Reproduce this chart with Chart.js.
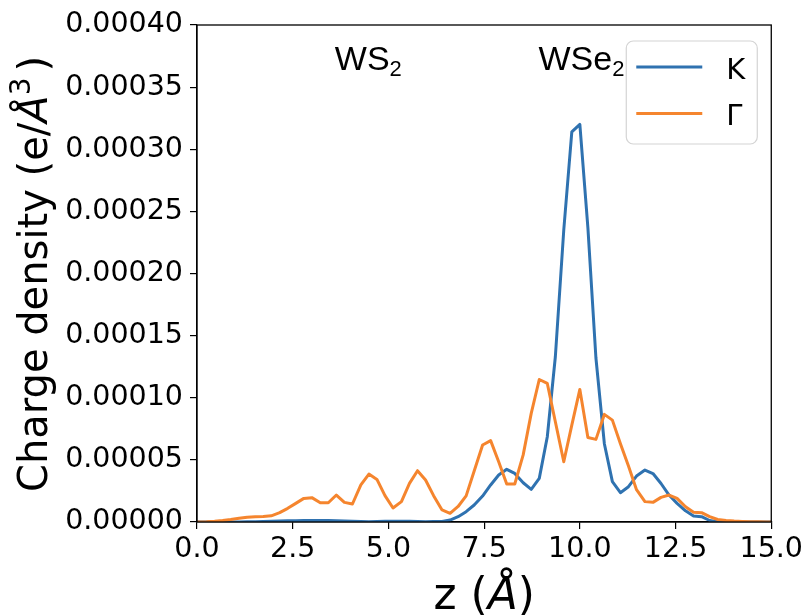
<!DOCTYPE html>
<html><head><meta charset="utf-8">
<script src="https://cdn.jsdelivr.net/npm/chart.js@4/dist/chart.umd.min.js"></script>
<style>html,body{margin:0;padding:0;background:#fff;}#wrap{width:806px;height:616px;}</style>
</head><body><div id="wrap"><canvas id="c" width="806" height="616"></canvas></div>
<script>
// z positions (Å) of the sampled profile
const zPositions = [-0.18,0.04,0.25,0.46,0.67,0.88,1.10,1.31,1.52,1.73,1.94,2.16,2.37,2.58,2.79,3.00,3.22,3.43,3.64,3.85,4.06,4.28,4.49,4.70,4.91,5.12,5.34,5.55,5.76,5.97,6.18,6.40,6.61,6.82,7.03,7.24,7.46,7.67,7.88,8.09,8.30,8.52,8.73,8.94,9.15,9.36,9.58,9.79,10.00,10.21,10.42,10.64,10.85,11.06,11.27,11.48,11.70,11.91,12.12,12.33,12.54,12.76,12.97,13.18,13.39,13.60,13.82,14.03,14.24,14.45,14.66,14.88,15.09];
// charge density in units of 1e-5 e/Å^3
const kDensity = [0,0,0,0,0,0.01,0.01,0.02,0.03,0.04,0.06,0.08,0.10,0.11,0.12,0.12,0.12,0.12,0.11,0.09,0.06,0.04,0.03,0.04,0.06,0.07,0.07,0.06,0.04,0.03,0.04,0.05,0.16,0.43,0.83,1.37,2.09,2.98,3.78,4.24,3.91,3.16,2.63,3.51,6.86,13.3,23.5,31.4,32.0,23.7,13.2,6.3,3.25,2.36,2.84,3.7,4.18,3.9,3.1,2.17,1.5,0.9,0.48,0.43,0.12,0.02,0,0,0,0,0,0,0];
const gammaDensity = [0,0.01,0.02,0.06,0.12,0.2,0.3,0.38,0.42,0.45,0.5,0.75,1.1,1.5,1.9,1.96,1.55,1.55,2.17,1.58,1.45,2.98,3.86,3.43,2.12,1.13,1.64,3.11,4.13,3.38,2.12,0.97,0.7,1.25,2.1,4.1,6.2,6.55,4.85,3.06,3.06,5.4,8.74,11.47,11.15,8.07,4.85,7.8,10.67,6.8,6.65,8.66,8.2,6.3,4.5,2.6,1.64,1.58,1.98,2.17,1.9,1.23,0.78,0.75,0.43,0.2,0.13,0.08,0.05,0.03,0.02,0.01,0.01];
const DENSITY_UNIT = 1e-5;
const seriesLabels = ['K', 'Γ'];
const xTickValues = [0, 2.5, 5, 7.5, 10, 12.5, 15];
const yTickValues = [0, 0.00005, 0.0001, 0.00015, 0.0002, 0.00025, 0.0003, 0.00035, 0.0004];
const layerNames = ['WS', 'WSe'];

const BLUE = '#2f72b0';
const ORANGE = '#f5852e';
const TICK_FONT = {family: 'DejaVu Sans', size: 28.5};

function drawRich(ctx, segs, x, y, align) {
  let total = 0;
  segs.forEach(s => { ctx.font = s.font; s.w = ctx.measureText(s.t).width + (s.gap || 0); total += s.w; });
  let cx = align === 'center' ? x - total / 2 : x;
  ctx.textAlign = 'left';
  ctx.textBaseline = 'alphabetic';
  segs.forEach(s => { ctx.font = s.font; ctx.fillText(s.t, cx, y + (s.dy || 0)); cx += s.w; });
}

const decorPlugin = {
  id: 'decor',
  afterDatasetsDraw(chart) {
    const ctx = chart.ctx, a = chart.chartArea;
    ctx.save();
    ctx.strokeStyle = '#000';
    ctx.lineWidth = 1.3;
    ctx.strokeRect(a.left, a.top, a.right - a.left, a.bottom - a.top);
    ctx.restore();
  },
  afterDraw(chart, args, opts) {
    const ctx = chart.ctx, a = chart.chartArea, sx = chart.scales.x, sy = chart.scales.y;
    ctx.save();
    ctx.fillStyle = '#000';
    // layer labels
    opts.layers.forEach((L, i) => {
      const px = sx.getPixelForValue(L.z), py = sy.getPixelForValue(L.v);
      drawRich(ctx, [
        {t: layerNames[i], font: '34px "Liberation Sans"'},
        {t: '2', font: '22px "Liberation Sans"', dy: 6}
      ], px, py, 'left');
    });
    // legend
    const bw = 131, bh = 103;
    const bx = a.right - 14 - bw, by = a.top + 16;
    ctx.beginPath();
    ctx.roundRect(bx, by, bw, bh, 7);
    ctx.fillStyle = 'rgba(255,255,255,0.85)';
    ctx.fill();
    ctx.strokeStyle = '#d4d4d4';
    ctx.lineWidth = 1.2;
    ctx.stroke();
    chart.data.datasets.forEach((ds, i) => {
      const ly = by + 26 + i * 46.5;
      ctx.beginPath();
      ctx.moveTo(bx + 10, ly);
      ctx.lineTo(bx + 76, ly);
      ctx.strokeStyle = ds.borderColor;
      ctx.lineWidth = 3;
      ctx.stroke();
      ctx.fillStyle = '#000';
      ctx.font = '29px "DejaVu Sans"';
      ctx.textAlign = 'left';
      ctx.textBaseline = 'alphabetic';
      ctx.fillText(ds.label, bx + 100, ly + 11.5);
    });
    // y title
    ctx.save();
    ctx.translate(47, (a.top + a.bottom) / 2 + 0.5);
    ctx.rotate(-Math.PI / 2);
    drawRich(ctx, [
      {t: 'Charge density (e/', font: '40px "DejaVu Sans"'},
      {t: 'Å', font: 'italic 40px "DejaVu Sans"'},
      {t: '3', font: '28px "DejaVu Sans"', dy: -17, gap: 6},
      {t: ')', font: '40px "DejaVu Sans"'}
    ], 0, 0, 'center');
    ctx.restore();
    // x title
    drawRich(ctx, [
      {t: 'z (', font: '44px "DejaVu Sans"'},
      {t: 'Å', font: 'italic 44px "DejaVu Sans"'},
      {t: ')', font: '44px "DejaVu Sans"'}
    ], (a.left + a.right) / 2, 609, 'center');
    ctx.restore();
  }
};

const ctx = document.getElementById('c').getContext('2d');
new Chart(ctx, {
  type: 'line',
  data: {
    datasets: [
      {label: seriesLabels[0], order: 1, data: zPositions.map((z, i) => ({x: z, y: kDensity[i] * DENSITY_UNIT})),
       borderColor: BLUE, borderWidth: 3, pointRadius: 0, tension: 0, fill: false, borderJoinStyle: 'round'},
      {label: seriesLabels[1], order: 0, data: zPositions.map((z, i) => ({x: z, y: gammaDensity[i] * DENSITY_UNIT})),
       borderColor: ORANGE, borderWidth: 3, pointRadius: 0, tension: 0, fill: false, borderJoinStyle: 'round'}
    ]
  },
  options: {
    responsive: false, animation: false, devicePixelRatio: 1,
    layout: {padding: {top: 25, right: 34, bottom: 0, left: 0}},
    plugins: {
      legend: {display: false}, tooltip: {enabled: false},
      decor: {layers: [{z: 3.6, v: 0.000364}, {z: 8.92, v: 0.000364}]}
    },
    scales: {
      x: {
        type: 'linear', min: 0, max: 15,
        afterBuildTicks: s => { s.ticks = xTickValues.map(v => ({value: v})); },
        afterFit: s => { s.height = 94; },
        grid: {display: true, drawOnChartArea: false, drawTicks: true, tickLength: 7, color: '#000', lineWidth: 1.2},
        border: {display: true, color: '#000', width: 1.2},
        ticks: {font: TICK_FONT, color: '#000', padding: 3, maxRotation: 0, autoSkip: false,
                callback: v => Number(v).toFixed(1)}
      },
      y: {
        type: 'linear', min: 0, max: 0.0004,
        afterBuildTicks: s => { s.ticks = yTickValues.map(v => ({value: v})); },
        afterFit: s => { s.width = 197; },
        grid: {display: true, drawOnChartArea: false, drawTicks: true, tickLength: 7, color: '#000', lineWidth: 1.2},
        border: {display: true, color: '#000', width: 1.2},
        ticks: {font: TICK_FONT, color: '#000', padding: 7, autoSkip: false,
                callback: v => Number(v).toFixed(5)}
      }
    }
  },
  plugins: [decorPlugin]
});
</script></body></html>
